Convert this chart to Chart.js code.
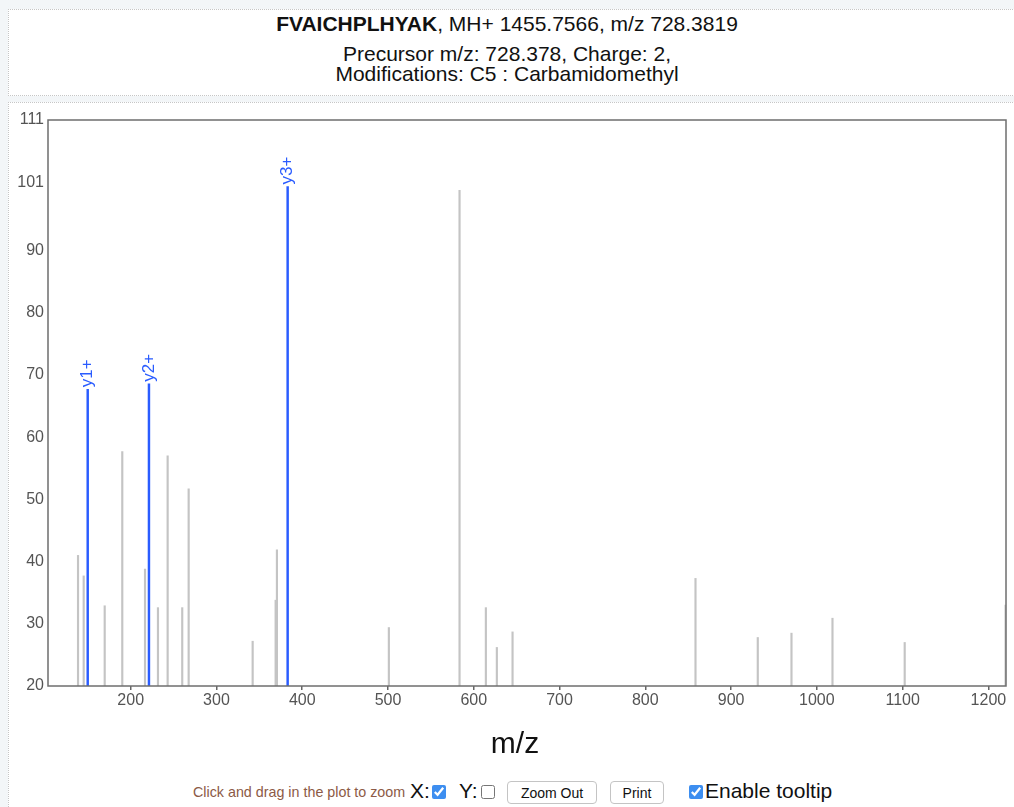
<!DOCTYPE html>
<html>
<head>
<meta charset="utf-8">
<script src="https://cdn.jsdelivr.net/npm/chart.js@4.4.0/dist/chart.umd.min.js"></script>
<style>
  body { margin:0; width:1014px; height:807px; overflow:hidden; position:relative; background:#f3f6f8; font-family:"Liberation Sans", Arial, sans-serif; }
  #cabecera { position:absolute; left:8px; top:9px; width:1010px; height:85px; background:#fff; border-top:1px dotted #c6c6c6; border-bottom:1px dotted #c6c6c6; border-left:1px dotted #c6c6c6; }
  #caja { position:absolute; left:8px; top:102px; width:1010px; height:720px; background:#fff; border-top:1px dotted #c6c6c6; border-left:1px dotted #c6c6c6; }
  .linea { position:absolute; left:0; width:1014px; text-align:center; font-size:21px; line-height:24px; color:#111; white-space:nowrap; }
  #grafico { position:absolute; left:0; top:100px; }
  #tituloX { position:absolute; left:415px; width:200px; top:725px; text-align:center; font-size:30px; line-height:36px; color:#111; }
  .ctrl { position:absolute; white-space:nowrap; }
  .chk { position:absolute; width:14px; height:14px; margin:0; accent-color:#3d8ef0; }
  button { position:absolute; background:#fff; border:1px solid #c4c4c4; border-radius:4px; font-family:"Liberation Sans", Arial, sans-serif; font-size:14px; color:#111; padding:0; height:23px; }
</style>
</head>
<body>
<div id="cabecera"></div>
<div id="caja"></div>
<div class="linea" style="top:12px"><b>FVAICHPLHYAK</b>, MH+ 1455.7566, m/z 728.3819</div>
<div class="linea" style="top:42px">Precursor m/z: 728.378, Charge: 2,</div>
<div class="linea" style="top:62px">Modifications: C5 : Carbamidomethyl</div>

<canvas id="grafico" width="1014" height="670"></canvas>
<div id="tituloX">m/z</div>

<span class="ctrl" style="left:193px;top:784px;font-size:14.3px;color:#8c5a46">Click and drag in the plot to zoom</span>
<span class="ctrl" style="left:410px;top:779px;font-size:21px;color:#111">X:</span>
<input type="checkbox" class="chk" style="left:432px;top:785px" checked>
<span class="ctrl" style="left:459px;top:779px;font-size:21px;color:#111">Y:</span>
<input type="checkbox" class="chk" style="left:481px;top:785px">
<button style="left:507px;top:781px;width:90px">Zoom Out</button>
<button style="left:610px;top:781px;width:54px">Print</button>
<input type="checkbox" class="chk" style="left:689px;top:785px" checked>
<span class="ctrl" style="left:705px;top:779px;font-size:21px;color:#111">Enable tooltip</span>

<script>
// picos sin asignar (gris)
const mzPicos = [138.6, 145.2, 169.7, 190.2, 216.7, 231.8, 243.1, 260.1, 267.6, 342.2, 369.0, 370.5,
  501.0, 583.4, 614.1, 626.9, 645.2, 858.5, 931.1, 970.4, 1018.2, 1102.4, 1220];
const intPicos = [41.0, 37.7, 32.9, 57.7, 38.8, 32.6, 57.0, 32.6, 51.7, 27.2, 33.8, 41.9,
  29.4, 99.7, 32.6, 26.2, 28.7, 37.3, 27.8, 28.5, 30.9, 27.0, 33.0];

// iones asignados (azul)
const mzIones = [149.9, 221.3, 383.0];
const intIones = [67.7, 68.6, 100.3];
const etiquetasIones = ["y1+", "y2+", "y3+"];

const ticksX = [200, 300, 400, 500, 600, 700, 800, 900, 1000, 1100, 1200];
const ticksY = [20, 30, 40, 50, 60, 70, 80, 90, 101, 111];

const fuente = '"Liberation Sans", Arial, sans-serif';
const azul = "#2a5cff";

// borde alrededor del area del grafico
const marco = {
  id: "marco",
  afterDraw(chart) {
    const a = chart.chartArea;
    const ctx = chart.ctx;
    ctx.save();
    ctx.strokeStyle = "#6e6e6e";
    ctx.lineWidth = 1.5;
    ctx.strokeRect(a.left, a.top, a.right - a.left, a.bottom - a.top);
    ctx.restore();
  }
};

// etiquetas giradas encima de los iones
const etiquetas = {
  id: "etiquetas",
  afterDatasetsDraw(chart) {
    const ctx = chart.ctx;
    const meta = chart.getDatasetMeta(1);
    ctx.save();
    ctx.font = "17px " + fuente;
    ctx.fillStyle = azul;
    ctx.textAlign = "left";
    ctx.textBaseline = "middle";
    meta.data.forEach((barra, i) => {
      ctx.save();
      ctx.translate(barra.x, barra.y - 2);
      ctx.rotate(-Math.PI / 2);
      ctx.fillText(etiquetasIones[i], 0, 0);
      ctx.restore();
    });
    ctx.restore();
  }
};

let ctx = document.getElementById("grafico").getContext("2d");

new Chart(ctx, {
  type: "bar",
  data: {
    datasets: [
      {
        label: "picos",
        data: mzPicos.map((m, i) => ({ x: m, y: intPicos[i] })),
        backgroundColor: "#c4c4c4",
        barThickness: 1.5,
        grouped: false
      },
      {
        label: "iones",
        data: mzIones.map((m, i) => ({ x: m, y: intIones[i] })),
        backgroundColor: azul,
        barThickness: 1.8,
        grouped: false
      }
    ]
  },
  options: {
    responsive: false,
    animation: false,
    devicePixelRatio: 1,
    layout: { padding: { top: 20, right: 8, left: 0, bottom: 0 } },
    plugins: {
      legend: { display: false },
      tooltip: { enabled: false }
    },
    scales: {
      x: {
        type: "linear",
        min: 103.6,
        max: 1220.5,
        offset: false,
        afterBuildTicks: (ax) => { ax.ticks = ticksX.map(v => ({ value: v })); },
        afterFit: (ax) => { ax.height = 84; },
        grid: { drawOnChartArea: false, offset: false, tickLength: 4, color: "#666", lineWidth: 1.5 },
        border: { display: false },
        ticks: { font: { size: 16, family: fuente }, color: "#545454", padding: 1, maxRotation: 0, autoSkip: false,
          callback: (v) => String(v) }
      },
      y: {
        min: 20,
        max: 111,
        afterBuildTicks: (ax) => { ax.ticks = ticksY.map(v => ({ value: v })); },
        afterFit: (ax) => { ax.width = 48; },
        grid: { display: false, drawTicks: false },
        border: { display: false },
        ticks: { font: { size: 16, family: fuente }, color: "#545454", padding: 4, autoSkip: false,
          callback: (v) => String(v) }
      }
    }
  },
  plugins: [marco, etiquetas]
});
</script>
</body>
</html>
